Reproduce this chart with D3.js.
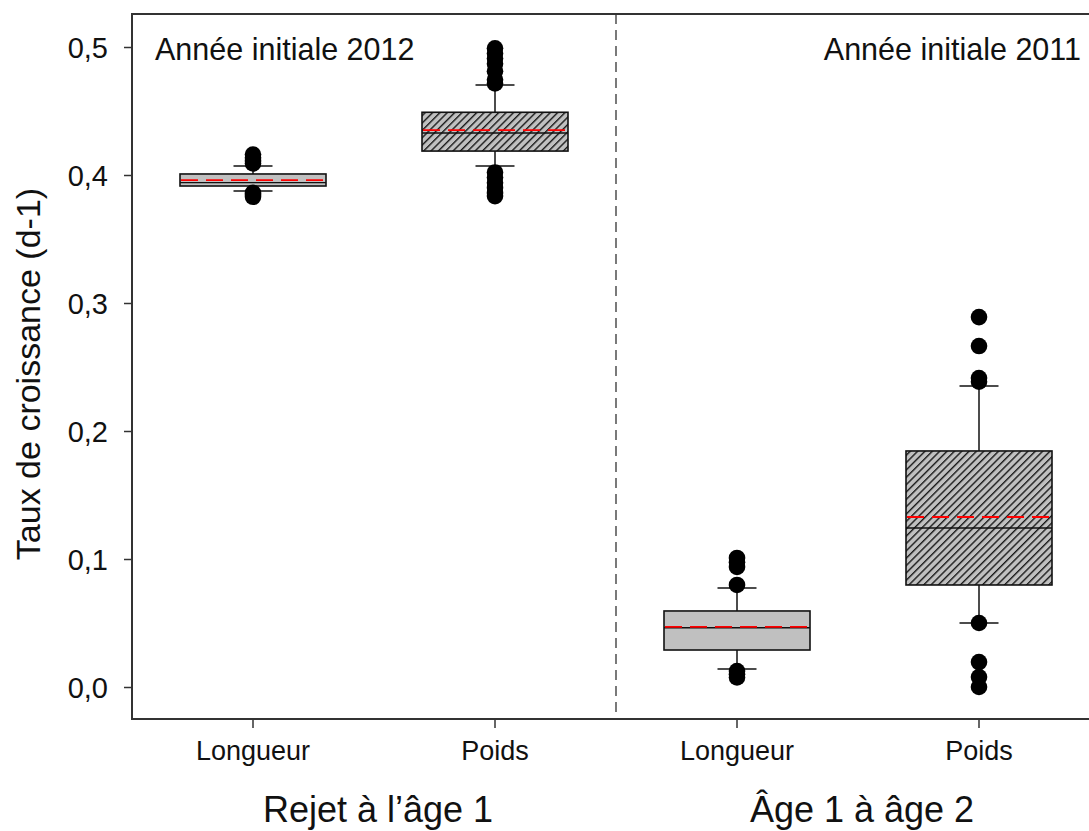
<!DOCTYPE html>
<html>
<head>
<meta charset="utf-8">
<script src="https://cdn.jsdelivr.net/npm/d3@7"></script>
<style>
  html, body { margin: 0; padding: 0; background: #fff; }
  svg { display: block; font-family: "Liberation Sans", Arial, sans-serif; }
</style>
</head>
<body>
<svg id="chart" width="1089" height="831"></svg>
<script>
// Categories (left to right) and their grouping
const categories = ["Longueur", "Poids", "Longueur ", "Poids "];
const tickLabels = ["Longueur", "Poids", "Longueur", "Poids"];
const hatched = [false, true, false, true];
const groupLabels = ["Rejet à l\u2019âge 1", "Âge 1 à âge 2"];
const panelTitles = ["Année initiale 2012", "Année initiale 2011"];

// Box statistics per category
const q1 = [0.3914, 0.4187, 0.0289, 0.0797];
const medians = [0.3940, 0.4328, 0.0463, 0.1242];
const q3 = [0.4008, 0.4490, 0.0594, 0.1844];
const means = [0.3960, 0.4350, 0.0470, 0.1328];
const whiskLow = [0.3875, 0.4070, 0.0140, 0.0500];
const whiskHigh = [0.4070, 0.4703, 0.0773, 0.2352];

// Outlying observations per category
const outliers = [
  [0.416, 0.4135, 0.411, 0.409, 0.386, 0.3845, 0.383],
  [0.499, 0.495, 0.491, 0.487, 0.481, 0.4745, 0.4715, 0.402, 0.398, 0.394, 0.390, 0.386, 0.3835],
  [0.1008, 0.0975, 0.0938, 0.0797, 0.0125, 0.0100, 0.0075],
  [0.289, 0.2664, 0.2414, 0.2385, 0.0500, 0.0195, 0.0078, 0.0000]
];

const yTicks = [0, 0.1, 0.2, 0.3, 0.4, 0.5];

const svg = d3.select("#chart");
const margin = { left: 132, top: 14, bottom: 719 };

const x = d3.scaleBand().domain(categories).range([132, 1100]).paddingInner(0).paddingOuter(0);
const y = d3.scaleLinear().domain([0, 0.5]).range([687, 47]);
const boxW = 146;
const capW = 39;
const axisColor = "#333";
const fontFam = "Liberation Sans, Arial, sans-serif";

// Hatch pattern for the weight boxes
const defs = svg.append("defs");
const pat = defs.append("pattern")
  .attr("id", "hatch").attr("patternUnits", "userSpaceOnUse")
  .attr("width", 5.2).attr("height", 5.2)
  .attr("patternTransform", "rotate(45)");
pat.append("rect").attr("width", 5.2).attr("height", 5.2).attr("fill", "#c0c0c0");
pat.append("line").attr("x1", 0.7).attr("y1", 0).attr("x2", 0.7).attr("y2", 5.2)
  .attr("stroke", "#1a1a1a").attr("stroke-width", 1.4);

// Frame: top line
svg.append("line")
  .attr("x1", margin.left).attr("x2", 1089)
  .attr("y1", margin.top).attr("y2", margin.top)
  .attr("stroke", axisColor).attr("stroke-width", 2);

// Divider between the two age groups
const divX = (x(categories[1]) + x.bandwidth() + x(categories[2])) / 2;
svg.append("line")
  .attr("x1", divX).attr("x2", divX)
  .attr("y1", margin.top).attr("y2", margin.bottom)
  .attr("stroke", axisColor).attr("stroke-width", 1.3)
  .attr("stroke-dasharray", "10,6");

// Y axis
const yAxis = d3.axisLeft(y).tickValues(yTicks).tickSize(8).tickSizeOuter(0)
  .tickFormat(d => d3.format(".1f")(d).replace(".", ","));
const gy = svg.append("g").attr("transform", `translate(${margin.left},0)`).call(yAxis);
gy.select(".domain").remove();
gy.append("line").attr("x1", 0).attr("x2", 0).attr("y1", margin.top - 1).attr("y2", margin.bottom + 1)
  .attr("stroke", axisColor).attr("stroke-width", 2);
gy.selectAll(".tick line").attr("stroke", axisColor).attr("stroke-width", 1.5);
gy.selectAll(".tick text").attr("x", -24).attr("dy", "0.35em").attr("fill", "#111")
  .style("font-size", "29px").style("font-family", fontFam);

// X axis
const xAxis = d3.axisBottom(x).tickSize(9).tickSizeOuter(0)
  .tickFormat((d, i) => tickLabels[i]);
const gx = svg.append("g").attr("transform", `translate(0,${margin.bottom})`).call(xAxis);
gx.select(".domain").remove();
gx.append("line").attr("x1", margin.left - 1).attr("x2", 1089).attr("y1", 0).attr("y2", 0)
  .attr("stroke", axisColor).attr("stroke-width", 2);
gx.selectAll(".tick line").attr("stroke", axisColor).attr("stroke-width", 1.5);
gx.selectAll(".tick text").attr("y", 22).attr("fill", "#111")
  .style("font-size", "27px").style("font-family", fontFam);

// Boxes
const boxes = svg.append("g");
categories.forEach((c, i) => {
  const cx = x(c) + x.bandwidth() / 2;
  const g = boxes.append("g");
  // whiskers
  g.append("line").attr("x1", cx).attr("x2", cx).attr("y1", y(q3[i])).attr("y2", y(whiskHigh[i]))
    .attr("stroke", "#111").attr("stroke-width", 1.5);
  g.append("line").attr("x1", cx).attr("x2", cx).attr("y1", y(q1[i])).attr("y2", y(whiskLow[i]))
    .attr("stroke", "#111").attr("stroke-width", 1.5);
  [whiskHigh[i], whiskLow[i]].forEach(v => {
    g.append("line").attr("x1", cx - capW / 2).attr("x2", cx + capW / 2)
      .attr("y1", y(v)).attr("y2", y(v)).attr("stroke", "#111").attr("stroke-width", 1.5);
  });
  // box
  g.append("rect")
    .attr("x", cx - boxW / 2).attr("width", boxW)
    .attr("y", y(q3[i])).attr("height", y(q1[i]) - y(q3[i]))
    .attr("fill", hatched[i] ? "url(#hatch)" : "#c0c0c0")
    .attr("stroke", "#111").attr("stroke-width", 1.6);
  // median
  g.append("line").attr("x1", cx - boxW / 2).attr("x2", cx + boxW / 2)
    .attr("y1", y(medians[i])).attr("y2", y(medians[i]))
    .attr("stroke", "#111").attr("stroke-width", 1.3);
  // mean
  g.append("line").attr("x1", cx - boxW / 2 + 1).attr("x2", cx + boxW / 2 - 1)
    .attr("y1", y(means[i])).attr("y2", y(means[i]))
    .attr("stroke", "#ff0000").attr("stroke-width", 1.8)
    .attr("stroke-dasharray", "17,8");
  // outliers
  g.selectAll("circle.out").data(outliers[i]).enter().append("circle")
    .attr("class", "out")
    .attr("cx", cx).attr("cy", d => y(d)).attr("r", 8.3).attr("fill", "#000");
});

// Panel titles
svg.append("text").attr("x", 155).attr("y", 60).text(panelTitles[0])
  .style("font-size", "30.5px").attr("fill", "#111");
svg.append("text").attr("x", 1081).attr("y", 60).attr("text-anchor", "end").text(panelTitles[1])
  .style("font-size", "30.5px").attr("fill", "#111");

// Group labels
const groupCenters = [
  (x(categories[0]) + x(categories[1]) + x.bandwidth()) / 2,
  (x(categories[2]) + x(categories[3]) + x.bandwidth()) / 2
];
groupLabels.forEach((t, i) => {
  svg.append("text").attr("x", groupCenters[i] + 4).attr("y", 822).attr("text-anchor", "middle")
    .text(t).style("font-size", "36px").attr("fill", "#111");
});

// Y axis title
svg.append("text")
  .attr("transform", `translate(40,374) rotate(-90)`)
  .attr("text-anchor", "middle")
  .text("Taux de croissance (d-1)")
  .style("font-size", "34px").attr("fill", "#111");
</script>
</body>
</html>
